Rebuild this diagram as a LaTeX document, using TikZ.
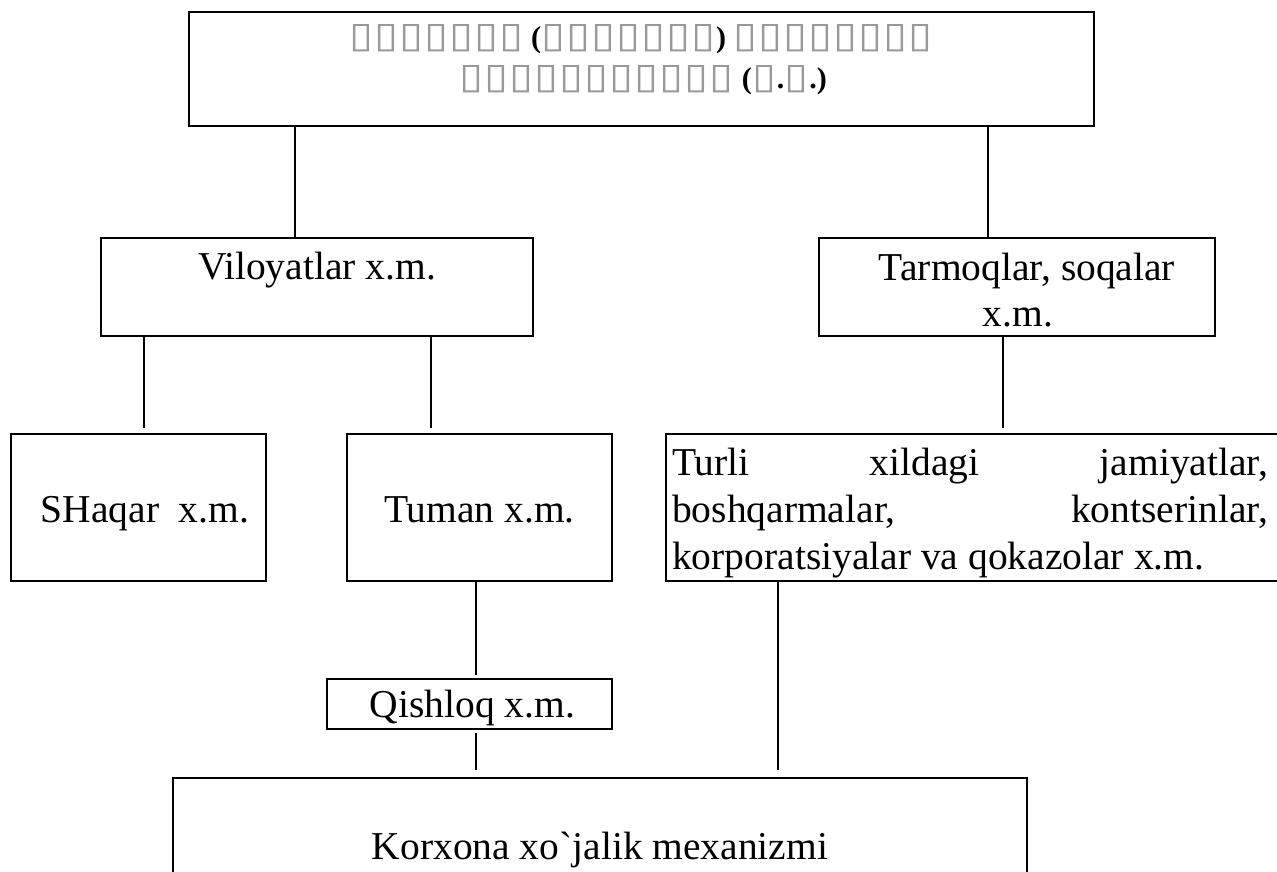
\documentclass[tikz,border=0pt]{standalone}
\usepackage{fontspec}
\setmainfont{Liberation Serif}
\newfontfamily\dejavu{DejaVu Sans}
\newfontfamily\graverm{Liberation Serif}[Ligatures=TeXOff]
\usepackage{graphicx}
\newcommand\tofu{\makebox[25pt]{\resizebox{24pt}{23pt}{\dejavu\textcolor{black!40}{▯}}}}
\begin{document}
\begin{tikzpicture}[x=1pt,y=-1pt,
  box/.style={draw, line width=2.7pt, inner sep=0pt, outer sep=0pt},
  conn/.style={line width=2.2pt},
  lbl/.style={anchor=base, inner sep=0pt, font=\fontsize{39.5}{47}\selectfont},
  toplbl/.style={anchor=base, inner sep=0pt, font=\fontsize{30}{41}\selectfont\bfseries}]
\useasboundingbox (0,0) rectangle (1277,872);
\clip (0,0) rectangle (1277,872);
% boxes
\node[box, minimum width=905pt, minimum height=114pt] (top) at (641.5,69) {};
\node[box, minimum width=432pt, minimum height=98pt] (vil) at (317,287) {};
\node[box, minimum width=396pt, minimum height=98pt] (tar) at (1017,287) {};
\node[box, minimum width=255pt, minimum height=147pt] (shq) at (138.5,507.5) {};
\node[box, minimum width=265pt, minimum height=147pt] (tum) at (479.5,507.5) {};
\node[box, minimum width=624pt, minimum height=147pt] (tur) at (978,507.5) {};
\node[box, minimum width=285pt, minimum height=50pt] (qis) at (469.5,704) {};
\node[box, minimum width=854pt, minimum height=122pt] (kor) at (600,839) {};
% texts
\node[toplbl] (t1) at (641,48) {\tofu\tofu\tofu\tofu\tofu\tofu\tofu{} (\tofu\tofu\tofu\tofu\tofu\tofu\tofu) \tofu\tofu\tofu\tofu\tofu\tofu\tofu\tofu};
\node[toplbl] (t2) at (643,89) {\tofu\tofu\tofu\tofu\tofu\tofu\tofu\tofu\tofu\tofu\tofu{} (\tofu.\tofu.)};
\node[lbl] (vilt) at (317,279) {Viloyatlar x.m.};
\node[lbl] (tart1) at (1027,280) {Tarmoqlar, soqalar};
\node[lbl] (tart2) at (1018,326) {x.m.};
\node[lbl] (shqt) at (145,522) {SHaqar\ \ x.m.};
\node[lbl] (tumt) at (479.5,522) {Tuman x.m.};
\node[lbl, anchor=base west] (turt) at (672,475) {\parbox[t]{596pt}{\fontsize{39.5}{47}\selectfont Turli xildagi jamiyatlar,\linebreak boshqarmalar, kontserinlar,\linebreak korporatsiyalar va qokazolar x.m.}};
\node[lbl] (qist) at (472.5,717) {Qishloq x.m.};
\node[lbl] (kort) at (600,859) {Korxona xo{\graverm`}jalik mexanizmi};
% connector x positions
\coordinate (x1) at (295,0);
\coordinate (x2) at (988,0);
\coordinate (x3) at (144,0);
\coordinate (x4) at (431,0);
\coordinate (x5) at (476,0);
\coordinate (x6) at (778,0);
\coordinate (x7) at (1003,0);
% connectors
\draw[conn] (top.south -| x1) -- (vil.north -| x1);
\draw[conn] (top.south -| x2) -- (tar.north -| x2);
\draw[conn, shorten >=6pt] (vil.south -| x3) -- (shq.north -| x3);
\draw[conn, shorten >=6pt] (vil.south -| x4) -- (tum.north -| x4);
\draw[conn, shorten >=6pt] (tar.south -| x7) -- (tur.north -| x7);
\draw[conn, shorten >=4pt] (tum.south -| x5) -- (qis.north -| x5);
\draw[conn, shorten <=4pt, shorten >=8pt] (qis.south -| x5) -- (kor.north -| x5);
\draw[conn, shorten >=8pt] (tur.south -| x6) -- (kor.north -| x6);
\end{tikzpicture}
\end{document}
